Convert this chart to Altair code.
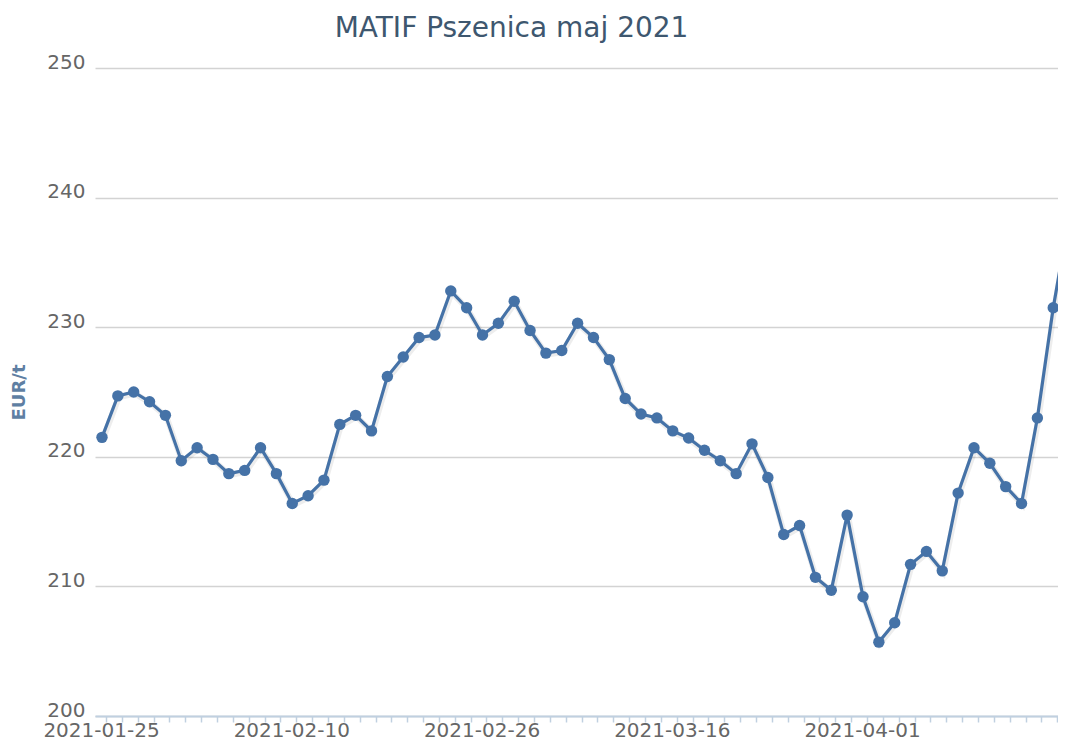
import altair as alt
import pandas as pd

title_text = "MATIF Pszenica maj 2021"
y_title = "EUR/t"

dates = [
    "2021-01-25", "2021-01-26", "2021-01-27", "2021-01-28", "2021-01-29",
    "2021-02-01", "2021-02-02", "2021-02-03", "2021-02-04", "2021-02-05",
    "2021-02-08", "2021-02-09", "2021-02-10", "2021-02-11", "2021-02-12",
    "2021-02-15", "2021-02-16", "2021-02-17", "2021-02-18", "2021-02-19",
    "2021-02-22", "2021-02-23", "2021-02-24", "2021-02-25", "2021-02-26",
    "2021-03-01", "2021-03-02", "2021-03-03", "2021-03-04", "2021-03-05",
    "2021-03-08", "2021-03-09", "2021-03-10", "2021-03-11", "2021-03-12",
    "2021-03-15", "2021-03-16", "2021-03-17", "2021-03-18", "2021-03-19",
    "2021-03-22", "2021-03-23", "2021-03-24", "2021-03-25", "2021-03-26",
    "2021-03-29", "2021-03-30", "2021-03-31", "2021-04-01", "2021-04-06",
    "2021-04-07", "2021-04-08", "2021-04-09", "2021-04-12", "2021-04-13",
    "2021-04-14", "2021-04-15", "2021-04-16", "2021-04-19", "2021-04-20",
    "2021-04-21", "2021-04-22",
]

prices = [
    221.5, 224.7, 225.0, 224.25, 223.2, 219.7, 220.7, 219.8, 218.7, 218.95,
    220.7, 218.7, 216.4, 217.0, 218.2, 222.5, 223.2, 222.0, 226.2, 227.7,
    229.2, 229.4, 232.8, 231.5, 229.4, 230.3, 232.0, 229.75, 228.0, 228.2,
    230.3, 229.2, 227.5, 224.5, 223.3, 223.0, 222.0, 221.45, 220.5, 219.7,
    218.7, 221.0, 218.4, 214.0, 214.7, 210.7, 209.7, 215.5, 209.2, 205.7,
    207.2, 211.7, 212.7, 211.2, 217.2, 220.7, 219.5, 217.7, 216.4, 223.0,
    231.5, 238.5,
]

y_ticks = [200, 210, 220, 230, 240, 250]
labelled_idx = [0, 12, 24, 36, 48]

df = pd.DataFrame({"idx": list(range(len(dates))), "date": dates, "price": prices})

js_dates = "[" + ",".join("'" + d + "'" for d in dates) + "]"
js_lab = "[" + ",".join(str(i) for i in labelled_idx) + "]"
label_expr = f"indexof({js_lab}, datum.value) >= 0 ? {js_dates}[datum.value] : ''"

LINE = "#4572A7"

x_enc = alt.X(
    "idx:Q",
    scale=alt.Scale(domain=[-0.4415, 60.30], nice=False, zero=False),
    axis=alt.Axis(
        values=list(range(len(dates) - 1)),
        labelExpr=label_expr,
        title=None,
        grid=False,
        domainColor="#C0D0E0",
        domainWidth=2,
        tickColor="#C0D0E0",
        tickWidth=1.5,
        tickSize=6,
        tickOffset=4,
        labelOffset=-5,
        labelOverlap=False,
        labelBound=False,
        labelFlush=False,
        labelBaseline="alphabetic",
        labelPadding=14,
        labelFontSize=20,
        labelFont="DejaVu Sans",
        labelColor="#666666",
    ),
)

y_enc = alt.Y(
    "price:Q",
    scale=alt.Scale(domain=[200, 250], nice=False, zero=False),
    axis=alt.Axis(
        values=y_ticks,
        title=y_title,
        titleFont="DejaVu Sans",
        titleFontSize=18,
        titleFontWeight="bold",
        titleColor="#5f7fa3",
        titleAngle=-90,
        titleX=-76,
        titleY=324,
        titleAlign="center",
        titleBaseline="middle",
        domain=False,
        domainOpacity=0,
        ticks=False,
        grid=True,
        gridColor="#d3d3d3",
        gridWidth=1.5,
        labelPadding=10,
        labelBaseline="alphabetic",
        labelFontSize=20,
        labelFont="DejaVu Sans",
        labelColor="#666666",
    ),
)

base = alt.Chart(df)

shadow = base.mark_line(
    color="#000000", opacity=0.07, strokeWidth=6, xOffset=1, yOffset=1.5, clip=True
).encode(x=x_enc, y=y_enc)

line = base.mark_line(color=LINE, strokeWidth=3.2, clip=True).encode(x=x_enc, y=y_enc)

points = base.mark_point(
    filled=True, color=LINE, size=130, opacity=1, shape="circle", clip=True
).encode(x=x_enc, y=y_enc)

chart = (
    alt.layer(shadow, line, points)
    .properties(
        width=963,
        height=648,
        autosize=alt.AutoSizeParams(type="none"),
        padding={"left": 87, "top": 60, "right": 0, "bottom": 26},
        title=alt.TitleParams(
            text=title_text,
            font="DejaVu Sans",
            fontSize=28,
            fontWeight="normal",
            color="#3E576F",
            anchor="middle",
            frame="group",
            dx=-65,
            offset=9,
        ),
    )
    .configure_view(stroke="transparent", strokeWidth=0)
    .configure_axisY(domain=False, domainOpacity=0)
    .configure(background="white", style={"cell": {"stroke": "transparent", "strokeWidth": 0}})
)

chart.save("out.html", embed_options={"renderer": "svg", "actions": False})
